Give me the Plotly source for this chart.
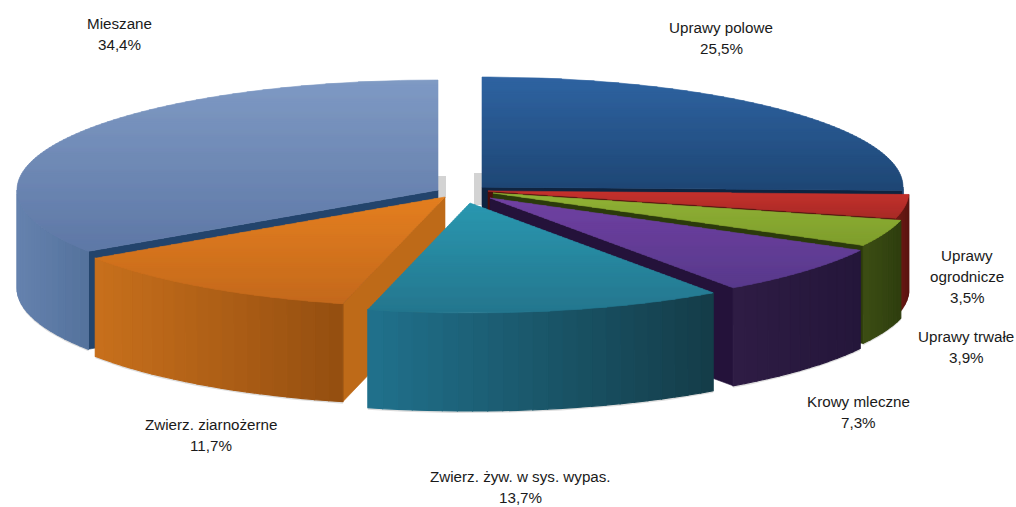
import math
import numpy as np
import plotly.graph_objects as go

# ---- data (clockwise from 12 o'clock) ----
categories = ["Uprawy polowe", "Uprawy<br>ogrodnicze", "Uprawy trwałe", "Krowy mleczne",
              "Zwierz. żyw. w sys. wypas.", "Zwierz. ziarnożerne", "Mieszane"]
values = [25.5, 3.5, 3.9, 7.3, 13.7, 11.7, 34.4]

# ---- styling ----
apex = [(482, 187), (488, 191), (493, 193), (490, 198), (470, 203), (445, 197), (438, 190)]
top_hi = ["#2F64A2", "#C4322D", "#90B236", "#7040A2", "#2A98B0", "#E47F1E", "#7F9AC4"]
top_lo = ["#1E4674", "#A82A26", "#7F9E2C", "#583A8C", "#24768E", "#C4691D", "#5E78A6"]
wall_l = ["#1E4674", "#6E1A15", "#3C4E14", "#2E1C44", "#20718C", "#C8701C", "#6582AE"]
wall_r = ["#1E4674", "#5A1410", "#2E3D0E", "#24163A", "#143C48", "#944E10", "#54729C"]
face = ["#0F2440", "#4A0F0C", "#2B3A0B", "#24123A", "#143C48", "#BE6A18", "#23446C"]
label_y = [27, 255, 336, 401, 476, 424, 23]
label_x = [721, 967, 966, 858, 520, 211, 119]
LINE = 21
RX, RY, DEPTH = 421, 110, 98
BAND = 2

order = [0, 1, 2, 3, 6, 5, 4]   # painter's order


def hex2rgb(c):
    return np.array([int(c[i:i + 2], 16) for i in (1, 3, 5)], float)


def mix(a, b, t):
    t = min(1, max(0, t))
    r = hex2rgb(a) * (1 - t) + hex2rgb(b) * t
    return "rgb(%d,%d,%d)" % tuple(r.round())


fig = go.Figure()


def poly(xs, ys, color, lw=0.6):
    fig.add_trace(go.Scatter(x=list(xs) + [xs[0]], y=list(ys) + [ys[0]], mode="lines", fill="toself",
                             fillcolor=color, line=dict(color=color, width=lw),
                             hoverinfo="skip", showlegend=False))


def clip_band(pts, y0, y1):
    def clip(p, keep, cross):
        out = []
        for i in range(len(p)):
            a, b = p[i], p[(i + 1) % len(p)]
            if keep(a):
                out.append(a)
            if keep(a) != keep(b):
                t = (cross - a[1]) / (b[1] - a[1])
                out.append((a[0] + t * (b[0] - a[0]), cross))
        return out
    p = clip(pts, lambda q: q[1] >= y0, y0)
    if p:
        p = clip(p, lambda q: q[1] <= y1, y1)
    return p


total = sum(values)
starts = np.cumsum([0] + values[:-1]) / total * 360
ends = np.cumsum(values) / total * 360


def pt(i, deg):
    a = math.radians(deg)
    return apex[i][0] + RX * math.sin(a), apex[i][1] - RY * math.cos(a)


# soft shadows beside the central gap
gap = "rgba(130,130,130,0.35)"
poly([apex[6][0], apex[6][0] + 8, apex[6][0] + 8, apex[6][0]],
     [apex[6][1] - 14, apex[6][1] - 14, apex[6][1] + 8, apex[6][1] + 8], gap, 0)
poly([apex[0][0] - 8, apex[0][0], apex[0][0], apex[0][0] - 8],
     [apex[0][1] - 14, apex[0][1] - 14, apex[0][1] + 18, apex[0][1] + 18], gap, 0)

for i in order:
    s, e = starts[i], ends[i]
    ax, ay = apex[i]
    lo, hi = max(s, 90), min(e, 270)
    # soft shadow along base
    if hi > lo:
        th = np.linspace(lo, hi, 40)
        px, py = zip(*[pt(i, t) for t in th])
        poly(list(px) + list(px[::-1]),
             [y + DEPTH + 2 for y in py] + [y + DEPTH - 2 for y in py[::-1]], "rgba(120,120,120,0.25)", 0)
    # visible cut faces
    if e < 180:
        x1, y1 = pt(i, e)
        poly([ax, x1, x1, ax], [ay, y1, y1 + DEPTH, ay + DEPTH], face[i])
    if s > 180:
        x1, y1 = pt(i, s)
        poly([ax, x1, x1, ax], [ay, y1, y1 + DEPTH, ay + DEPTH], face[i])
    # outer wall
    if hi > lo:
        n = max(2, int((hi - lo) / 2))
        th = np.linspace(lo, hi, n + 1)
        xs = [pt(i, t)[0] for t in th]
        xmin, xmax = min(xs), max(xs)
        for a, b in zip(th[:-1], th[1:]):
            xa, ya = pt(i, a)
            xb, yb = pt(i, b)
            t = ((xa + xb) / 2 - xmin) / max(1, xmax - xmin)
            poly([xa, xb, xb, xa], [ya, yb, yb + DEPTH, ya + DEPTH], mix(wall_l[i], wall_r[i], t), 1.2)
    # top face with vertical gradient in thin bands
    arc = [pt(i, t) for t in np.linspace(s, e, max(6, int(e - s)))]
    pts = [(ax, ay)] + arc
    ys = [p[1] for p in pts]
    ymin, ymax = min(ys), max(ys)
    y = ymin
    while y < ymax:
        part = clip_band(pts, y, y + BAND)
        if len(part) >= 3:
            c = mix(top_hi[i], top_lo[i], (y - ymin) / max(1, ymax - ymin))
            poly([q[0] for q in part], [q[1] for q in part], c)
        y += BAND

for c, v, lx, ly in zip(categories, values, label_x, label_y):
    lines = c.split("<br>") + [f"{v:.1f}".replace(".", ",") + "%"]
    for k, line in enumerate(lines):
        fig.add_annotation(x=lx, y=ly + k * LINE, xref="x", yref="y", showarrow=False,
                           text=line, font=dict(family="Liberation Sans", size=15.2, color="#1a1a1a"))

fig.update_layout(width=1016, height=507, margin=dict(l=0, r=0, t=0, b=0), showlegend=False,
                  paper_bgcolor="white", plot_bgcolor="white",
                  xaxis=dict(range=[0, 1016], visible=False, fixedrange=True),
                  yaxis=dict(range=[507, 0], visible=False, fixedrange=True))
fig.write_html("out.html", post_script="document.body.style.margin='0';document.body.style.overflow='hidden';",
               config=dict(displayModeBar=False))
